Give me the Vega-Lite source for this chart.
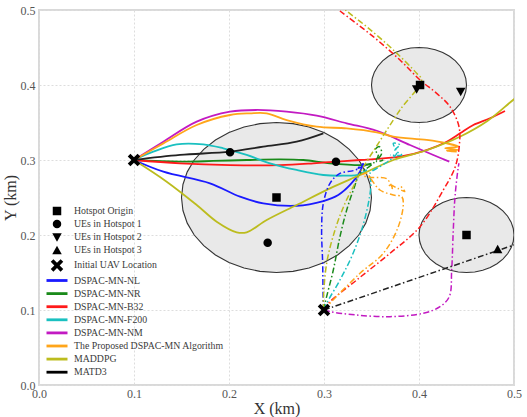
{
  "$schema": "https://vega.github.io/schema/vega-lite/v6.json",
  "width": 475,
  "height": 375,
  "autosize": {"type": "none"},
  "padding": {"left": 39, "top": 10, "right": 13, "bottom": 32},
  "background": "white",
  "datasets": {
    "ell": [
      {"e":"h1","k":0,"x":0.35,"y":0.25},{"e":"h1","k":10,"x":0.34848,"y":0.26736},{"e":"h1","k":20,"x":0.34397,"y":0.2842},{"e":"h1","k":30,"x":0.3366,"y":0.3},{"e":"h1","k":40,"x":0.3266,"y":0.31428},{"e":"h1","k":50,"x":0.31428,"y":0.3266},{"e":"h1","k":60,"x":0.3,"y":0.3366},{"e":"h1","k":70,"x":0.2842,"y":0.34397},{"e":"h1","k":80,"x":0.26736,"y":0.34848},{"e":"h1","k":90,"x":0.25,"y":0.35},{"e":"h1","k":100,"x":0.23264,"y":0.34848},{"e":"h1","k":110,"x":0.2158,"y":0.34397},{"e":"h1","k":120,"x":0.2,"y":0.3366},{"e":"h1","k":130,"x":0.18572,"y":0.3266},{"e":"h1","k":140,"x":0.1734,"y":0.31428},{"e":"h1","k":150,"x":0.1634,"y":0.3},{"e":"h1","k":160,"x":0.15603,"y":0.2842},{"e":"h1","k":170,"x":0.15152,"y":0.26736},{"e":"h1","k":180,"x":0.15,"y":0.25},{"e":"h1","k":190,"x":0.15152,"y":0.23264},{"e":"h1","k":200,"x":0.15603,"y":0.2158},{"e":"h1","k":210,"x":0.1634,"y":0.2},{"e":"h1","k":220,"x":0.1734,"y":0.18572},{"e":"h1","k":230,"x":0.18572,"y":0.1734},{"e":"h1","k":240,"x":0.2,"y":0.1634},{"e":"h1","k":250,"x":0.2158,"y":0.15603},{"e":"h1","k":260,"x":0.23264,"y":0.15152},{"e":"h1","k":270,"x":0.25,"y":0.15},{"e":"h1","k":280,"x":0.26736,"y":0.15152},{"e":"h1","k":290,"x":0.2842,"y":0.15603},{"e":"h1","k":300,"x":0.3,"y":0.1634},{"e":"h1","k":310,"x":0.31428,"y":0.1734},{"e":"h1","k":320,"x":0.3266,"y":0.18572},{"e":"h1","k":330,"x":0.3366,"y":0.2},{"e":"h1","k":340,"x":0.34397,"y":0.2158},{"e":"h1","k":350,"x":0.34848,"y":0.23264},{"e":"h1","k":360,"x":0.35,"y":0.25},
      {"e":"h2","k":0,"x":0.45,"y":0.4},{"e":"h2","k":10,"x":0.44924,"y":0.40868},{"e":"h2","k":20,"x":0.44698,"y":0.4171},{"e":"h2","k":30,"x":0.4433,"y":0.425},{"e":"h2","k":40,"x":0.4383,"y":0.43214},{"e":"h2","k":50,"x":0.43214,"y":0.4383},{"e":"h2","k":60,"x":0.425,"y":0.4433},{"e":"h2","k":70,"x":0.4171,"y":0.44698},{"e":"h2","k":80,"x":0.40868,"y":0.44924},{"e":"h2","k":90,"x":0.4,"y":0.45},{"e":"h2","k":100,"x":0.39132,"y":0.44924},{"e":"h2","k":110,"x":0.3829,"y":0.44698},{"e":"h2","k":120,"x":0.375,"y":0.4433},{"e":"h2","k":130,"x":0.36786,"y":0.4383},{"e":"h2","k":140,"x":0.3617,"y":0.43214},{"e":"h2","k":150,"x":0.3567,"y":0.425},{"e":"h2","k":160,"x":0.35302,"y":0.4171},{"e":"h2","k":170,"x":0.35076,"y":0.40868},{"e":"h2","k":180,"x":0.35,"y":0.4},{"e":"h2","k":190,"x":0.35076,"y":0.39132},{"e":"h2","k":200,"x":0.35302,"y":0.3829},{"e":"h2","k":210,"x":0.3567,"y":0.375},{"e":"h2","k":220,"x":0.3617,"y":0.36786},{"e":"h2","k":230,"x":0.36786,"y":0.3617},{"e":"h2","k":240,"x":0.375,"y":0.3567},{"e":"h2","k":250,"x":0.3829,"y":0.35302},{"e":"h2","k":260,"x":0.39132,"y":0.35076},{"e":"h2","k":270,"x":0.4,"y":0.35},{"e":"h2","k":280,"x":0.40868,"y":0.35076},{"e":"h2","k":290,"x":0.4171,"y":0.35302},{"e":"h2","k":300,"x":0.425,"y":0.3567},{"e":"h2","k":310,"x":0.43214,"y":0.3617},{"e":"h2","k":320,"x":0.4383,"y":0.36786},{"e":"h2","k":330,"x":0.4433,"y":0.375},{"e":"h2","k":340,"x":0.44698,"y":0.3829},{"e":"h2","k":350,"x":0.44924,"y":0.39132},{"e":"h2","k":360,"x":0.45,"y":0.4},
      {"e":"h3","k":0,"x":0.5,"y":0.2},{"e":"h3","k":10,"x":0.49924,"y":0.20868},{"e":"h3","k":20,"x":0.49698,"y":0.2171},{"e":"h3","k":30,"x":0.4933,"y":0.225},{"e":"h3","k":40,"x":0.4883,"y":0.23214},{"e":"h3","k":50,"x":0.48214,"y":0.2383},{"e":"h3","k":60,"x":0.475,"y":0.2433},{"e":"h3","k":70,"x":0.4671,"y":0.24698},{"e":"h3","k":80,"x":0.45868,"y":0.24924},{"e":"h3","k":90,"x":0.45,"y":0.25},{"e":"h3","k":100,"x":0.44132,"y":0.24924},{"e":"h3","k":110,"x":0.4329,"y":0.24698},{"e":"h3","k":120,"x":0.425,"y":0.2433},{"e":"h3","k":130,"x":0.41786,"y":0.2383},{"e":"h3","k":140,"x":0.4117,"y":0.23214},{"e":"h3","k":150,"x":0.4067,"y":0.225},{"e":"h3","k":160,"x":0.40302,"y":0.2171},{"e":"h3","k":170,"x":0.40076,"y":0.20868},{"e":"h3","k":180,"x":0.4,"y":0.2},{"e":"h3","k":190,"x":0.40076,"y":0.19132},{"e":"h3","k":200,"x":0.40302,"y":0.1829},{"e":"h3","k":210,"x":0.4067,"y":0.175},{"e":"h3","k":220,"x":0.4117,"y":0.16786},{"e":"h3","k":230,"x":0.41786,"y":0.1617},{"e":"h3","k":240,"x":0.425,"y":0.1567},{"e":"h3","k":250,"x":0.4329,"y":0.15302},{"e":"h3","k":260,"x":0.44132,"y":0.15076},{"e":"h3","k":270,"x":0.45,"y":0.15},{"e":"h3","k":280,"x":0.45868,"y":0.15076},{"e":"h3","k":290,"x":0.4671,"y":0.15302},{"e":"h3","k":300,"x":0.475,"y":0.1567},{"e":"h3","k":310,"x":0.48214,"y":0.1617},{"e":"h3","k":320,"x":0.4883,"y":0.16786},{"e":"h3","k":330,"x":0.4933,"y":0.175},{"e":"h3","k":340,"x":0.49698,"y":0.1829},{"e":"h3","k":350,"x":0.49924,"y":0.19132},{"e":"h3","k":360,"x":0.5,"y":0.2}
    ],
    "t1": [
      {"a":"DSPAC-MN-NL","k":0,"x":0.1,"y":0.3},{"a":"DSPAC-MN-NL","k":1,"x":0.1309,"y":0.2844},{"a":"DSPAC-MN-NL","k":2,"x":0.18,"y":0.2689},{"a":"DSPAC-MN-NL","k":3,"x":0.2116,"y":0.2511},{"a":"DSPAC-MN-NL","k":4,"x":0.2361,"y":0.2422},{"a":"DSPAC-MN-NL","k":5,"x":0.2712,"y":0.239},{"a":"DSPAC-MN-NL","k":6,"x":0.2993,"y":0.2453},{"a":"DSPAC-MN-NL","k":7,"x":0.315,"y":0.2533},{"a":"DSPAC-MN-NL","k":8,"x":0.3274,"y":0.2667},{"a":"DSPAC-MN-NL","k":9,"x":0.3379,"y":0.2844},{"a":"DSPAC-MN-NL","k":10,"x":0.3414,"y":0.2956},
      {"a":"DSPAC-MN-NR","k":0,"x":0.1,"y":0.3},{"a":"DSPAC-MN-NR","k":1,"x":0.1484,"y":0.2978},{"a":"DSPAC-MN-NR","k":2,"x":0.1835,"y":0.2987},{"a":"DSPAC-MN-NR","k":3,"x":0.2186,"y":0.3},{"a":"DSPAC-MN-NR","k":4,"x":0.2537,"y":0.3009},{"a":"DSPAC-MN-NR","k":5,"x":0.2782,"y":0.3},{"a":"DSPAC-MN-NR","k":6,"x":0.3063,"y":0.2956},{"a":"DSPAC-MN-NR","k":7,"x":0.3414,"y":0.2933},{"a":"DSPAC-MN-NR","k":8,"x":0.35,"y":0.295},
      {"a":"DSPAC-MN-B32","k":0,"x":0.1,"y":0.3},{"a":"DSPAC-MN-B32","k":1,"x":0.1484,"y":0.2956},{"a":"DSPAC-MN-B32","k":2,"x":0.2011,"y":0.2933},{"a":"DSPAC-MN-B32","k":3,"x":0.2537,"y":0.2933},{"a":"DSPAC-MN-B32","k":4,"x":0.2888,"y":0.2956},{"a":"DSPAC-MN-B32","k":5,"x":0.3133,"y":0.2978},{"a":"DSPAC-MN-B32","k":6,"x":0.3379,"y":0.3},{"a":"DSPAC-MN-B32","k":7,"x":0.38,"y":0.3044},{"a":"DSPAC-MN-B32","k":8,"x":0.408,"y":0.3133},{"a":"DSPAC-MN-B32","k":9,"x":0.4292,"y":0.3244},{"a":"DSPAC-MN-B32","k":10,"x":0.4432,"y":0.3356},{"a":"DSPAC-MN-B32","k":11,"x":0.4572,"y":0.3467},{"a":"DSPAC-MN-B32","k":12,"x":0.4747,"y":0.3556},{"a":"DSPAC-MN-B32","k":13,"x":0.4905,"y":0.3653},
      {"a":"DSPAC-MN-F200","k":0,"x":0.1,"y":0.3},{"a":"DSPAC-MN-F200","k":1,"x":0.1203,"y":0.3111},{"a":"DSPAC-MN-F200","k":2,"x":0.1449,"y":0.3209},{"a":"DSPAC-MN-F200","k":3,"x":0.1729,"y":0.3209},{"a":"DSPAC-MN-F200","k":4,"x":0.194,"y":0.3156},{"a":"DSPAC-MN-F200","k":5,"x":0.2186,"y":0.3067},{"a":"DSPAC-MN-F200","k":6,"x":0.2432,"y":0.2956},{"a":"DSPAC-MN-F200","k":7,"x":0.2712,"y":0.2867},{"a":"DSPAC-MN-F200","k":8,"x":0.2993,"y":0.28},{"a":"DSPAC-MN-F200","k":9,"x":0.3203,"y":0.2791},{"a":"DSPAC-MN-F200","k":10,"x":0.3379,"y":0.2809},{"a":"DSPAC-MN-F200","k":11,"x":0.345,"y":0.287},
      {"a":"DSPAC-MN-NM","k":0,"x":0.1,"y":0.3},{"a":"DSPAC-MN-NM","k":1,"x":0.1309,"y":0.3244},{"a":"DSPAC-MN-NM","k":2,"x":0.166,"y":0.3511},{"a":"DSPAC-MN-NM","k":3,"x":0.2011,"y":0.3644},{"a":"DSPAC-MN-NM","k":4,"x":0.2291,"y":0.3667},{"a":"DSPAC-MN-NM","k":5,"x":0.2607,"y":0.3644},{"a":"DSPAC-MN-NM","k":6,"x":0.2923,"y":0.3591},{"a":"DSPAC-MN-NM","k":7,"x":0.3239,"y":0.3489},{"a":"DSPAC-MN-NM","k":8,"x":0.3555,"y":0.339},{"a":"DSPAC-MN-NM","k":9,"x":0.3905,"y":0.32},{"a":"DSPAC-MN-NM","k":10,"x":0.4151,"y":0.3067},{"a":"DSPAC-MN-NM","k":11,"x":0.4319,"y":0.2978},
      {"a":"The Proposed DSPAC-MN Algorithm","k":0,"x":0.1,"y":0.3},{"a":"The Proposed DSPAC-MN Algorithm","k":1,"x":0.1309,"y":0.3222},{"a":"The Proposed DSPAC-MN Algorithm","k":2,"x":0.166,"y":0.3467},{"a":"The Proposed DSPAC-MN Algorithm","k":3,"x":0.2011,"y":0.36},{"a":"The Proposed DSPAC-MN Algorithm","k":4,"x":0.2221,"y":0.3622},{"a":"The Proposed DSPAC-MN Algorithm","k":5,"x":0.2397,"y":0.3622},{"a":"The Proposed DSPAC-MN Algorithm","k":6,"x":0.2607,"y":0.3533},{"a":"The Proposed DSPAC-MN Algorithm","k":7,"x":0.2923,"y":0.3444},{"a":"The Proposed DSPAC-MN Algorithm","k":8,"x":0.3239,"y":0.3422},{"a":"The Proposed DSPAC-MN Algorithm","k":9,"x":0.3555,"y":0.3369},{"a":"The Proposed DSPAC-MN Algorithm","k":10,"x":0.373,"y":0.3311},{"a":"The Proposed DSPAC-MN Algorithm","k":11,"x":0.4081,"y":0.3267},{"a":"The Proposed DSPAC-MN Algorithm","k":12,"x":0.4292,"y":0.3222},{"a":"The Proposed DSPAC-MN Algorithm","k":13,"x":0.4414,"y":0.3178},{"a":"The Proposed DSPAC-MN Algorithm","k":14,"x":0.4275,"y":0.3156},{"a":"The Proposed DSPAC-MN Algorithm","k":15,"x":0.4414,"y":0.3133},{"a":"The Proposed DSPAC-MN Algorithm","k":16,"x":0.4292,"y":0.3122},{"a":"The Proposed DSPAC-MN Algorithm","k":17,"x":0.4397,"y":0.3111},
      {"a":"MADDPG","k":0,"x":0.1,"y":0.3},{"a":"MADDPG","k":1,"x":0.1344,"y":0.2711},{"a":"MADDPG","k":2,"x":0.166,"y":0.24},{"a":"MADDPG","k":3,"x":0.187,"y":0.2178},{"a":"MADDPG","k":4,"x":0.2081,"y":0.2036},{"a":"MADDPG","k":5,"x":0.2186,"y":0.2036},{"a":"MADDPG","k":6,"x":0.2397,"y":0.22},{"a":"MADDPG","k":7,"x":0.2712,"y":0.24},{"a":"MADDPG","k":8,"x":0.3063,"y":0.2622},{"a":"MADDPG","k":9,"x":0.3379,"y":0.28},{"a":"MADDPG","k":10,"x":0.373,"y":0.3},{"a":"MADDPG","k":11,"x":0.408,"y":0.313},{"a":"MADDPG","k":12,"x":0.443,"y":0.331},{"a":"MADDPG","k":13,"x":0.472,"y":0.352},{"a":"MADDPG","k":14,"x":0.5,"y":0.381},{"a":"MADDPG","k":15,"x":0.51,"y":0.39},
      {"a":"MATD3","k":0,"x":0.1,"y":0.3},{"a":"MATD3","k":1,"x":0.1484,"y":0.3067},{"a":"MATD3","k":2,"x":0.2011,"y":0.3111},{"a":"MATD3","k":3,"x":0.2361,"y":0.3178},{"a":"MATD3","k":4,"x":0.2712,"y":0.3244},{"a":"MATD3","k":5,"x":0.2993,"y":0.3356}
    ],
    "t2": [
      {"a":"DSPAC-MN-NL","k":0,"x":0.3,"y":0.1},{"a":"DSPAC-MN-NL","k":1,"x":0.2993,"y":0.1089},{"a":"DSPAC-MN-NL","k":2,"x":0.2986,"y":0.1622},{"a":"DSPAC-MN-NL","k":3,"x":0.2975,"y":0.2067},{"a":"DSPAC-MN-NL","k":4,"x":0.2993,"y":0.2422},{"a":"DSPAC-MN-NL","k":5,"x":0.3063,"y":0.2689},{"a":"DSPAC-MN-NL","k":6,"x":0.3168,"y":0.2822},{"a":"DSPAC-MN-NL","k":7,"x":0.3309,"y":0.2858},{"a":"DSPAC-MN-NL","k":8,"x":0.3396,"y":0.2911},{"a":"DSPAC-MN-NL","k":9,"x":0.342,"y":0.296},{"a":"DSPAC-MN-NL","k":10,"x":0.336,"y":0.289},{"a":"DSPAC-MN-NL","k":11,"x":0.344,"y":0.293},
      {"a":"DSPAC-MN-NR","k":0,"x":0.3,"y":0.1},{"a":"DSPAC-MN-NR","k":1,"x":0.3011,"y":0.1089},{"a":"DSPAC-MN-NR","k":2,"x":0.3098,"y":0.1533},{"a":"DSPAC-MN-NR","k":3,"x":0.3168,"y":0.1978},{"a":"DSPAC-MN-NR","k":4,"x":0.3239,"y":0.2333},{"a":"DSPAC-MN-NR","k":5,"x":0.3309,"y":0.26},{"a":"DSPAC-MN-NR","k":6,"x":0.3379,"y":0.2822},{"a":"DSPAC-MN-NR","k":7,"x":0.345,"y":0.2889},{"a":"DSPAC-MN-NR","k":8,"x":0.3519,"y":0.2956},{"a":"DSPAC-MN-NR","k":9,"x":0.3572,"y":0.3067},{"a":"DSPAC-MN-NR","k":10,"x":0.3537,"y":0.3133},{"a":"DSPAC-MN-NR","k":11,"x":0.3582,"y":0.3178},{"a":"DSPAC-MN-NR","k":12,"x":0.3607,"y":0.3089},{"a":"DSPAC-MN-NR","k":13,"x":0.3554,"y":0.2978},{"a":"DSPAC-MN-NR","k":14,"x":0.3624,"y":0.3},
      {"a":"DSPAC-MN-B32","k":0,"x":0.3,"y":0.1},{"a":"DSPAC-MN-B32","k":1,"x":0.3046,"y":0.1089},{"a":"DSPAC-MN-B32","k":2,"x":0.3344,"y":0.14},{"a":"DSPAC-MN-B32","k":3,"x":0.3695,"y":0.1756},{"a":"DSPAC-MN-B32","k":4,"x":0.4011,"y":0.2111},{"a":"DSPAC-MN-B32","k":5,"x":0.4256,"y":0.26},{"a":"DSPAC-MN-B32","k":6,"x":0.4379,"y":0.29},{"a":"DSPAC-MN-B32","k":7,"x":0.4425,"y":0.32},{"a":"DSPAC-MN-B32","k":8,"x":0.442,"y":0.345},{"a":"DSPAC-MN-B32","k":9,"x":0.4326,"y":0.3711},{"a":"DSPAC-MN-B32","k":10,"x":0.4186,"y":0.3889},{"a":"DSPAC-MN-B32","k":11,"x":0.4011,"y":0.4067},{"a":"DSPAC-MN-B32","k":12,"x":0.38,"y":0.4333},{"a":"DSPAC-MN-B32","k":13,"x":0.3519,"y":0.4644},{"a":"DSPAC-MN-B32","k":14,"x":0.3168,"y":0.4987},{"a":"DSPAC-MN-B32","k":15,"x":0.305,"y":0.51},
      {"a":"DSPAC-MN-F200","k":0,"x":0.3,"y":0.1},{"a":"DSPAC-MN-F200","k":1,"x":0.3028,"y":0.1089},{"a":"DSPAC-MN-F200","k":2,"x":0.3168,"y":0.14},{"a":"DSPAC-MN-F200","k":3,"x":0.3291,"y":0.1711},{"a":"DSPAC-MN-F200","k":4,"x":0.3396,"y":0.2067},{"a":"DSPAC-MN-F200","k":5,"x":0.3467,"y":0.2422},{"a":"DSPAC-MN-F200","k":6,"x":0.3495,"y":0.2689},{"a":"DSPAC-MN-F200","k":7,"x":0.3484,"y":0.2822},{"a":"DSPAC-MN-F200","k":8,"x":0.3589,"y":0.2911},{"a":"DSPAC-MN-F200","k":9,"x":0.3695,"y":0.3},{"a":"DSPAC-MN-F200","k":10,"x":0.3765,"y":0.3089},{"a":"DSPAC-MN-F200","k":11,"x":0.373,"y":0.3222},{"a":"DSPAC-MN-F200","k":12,"x":0.38,"y":0.32},{"a":"DSPAC-MN-F200","k":13,"x":0.3747,"y":0.3133},{"a":"DSPAC-MN-F200","k":14,"x":0.3818,"y":0.3067},{"a":"DSPAC-MN-F200","k":15,"x":0.3695,"y":0.3067},
      {"a":"DSPAC-MN-NM","k":0,"x":0.3,"y":0.1},{"a":"DSPAC-MN-NM","k":1,"x":0.3063,"y":0.0978},{"a":"DSPAC-MN-NM","k":2,"x":0.3344,"y":0.0933},{"a":"DSPAC-MN-NM","k":3,"x":0.3695,"y":0.0911},{"a":"DSPAC-MN-NM","k":4,"x":0.4046,"y":0.0956},{"a":"DSPAC-MN-NM","k":5,"x":0.4221,"y":0.1044},{"a":"DSPAC-MN-NM","k":6,"x":0.4319,"y":0.1178},{"a":"DSPAC-MN-NM","k":7,"x":0.4344,"y":0.1533},{"a":"DSPAC-MN-NM","k":8,"x":0.4361,"y":0.2067},{"a":"DSPAC-MN-NM","k":9,"x":0.4379,"y":0.2511},{"a":"DSPAC-MN-NM","k":10,"x":0.4414,"y":0.2911},{"a":"DSPAC-MN-NM","k":11,"x":0.4421,"y":0.2956},
      {"a":"The Proposed DSPAC-MN Algorithm","k":0,"x":0.3,"y":0.1},{"a":"The Proposed DSPAC-MN Algorithm","k":1,"x":0.3046,"y":0.1067},{"a":"The Proposed DSPAC-MN Algorithm","k":2,"x":0.3379,"y":0.1489},{"a":"The Proposed DSPAC-MN Algorithm","k":3,"x":0.3625,"y":0.1756},{"a":"The Proposed DSPAC-MN Algorithm","k":4,"x":0.3782,"y":0.2111},{"a":"The Proposed DSPAC-MN Algorithm","k":5,"x":0.3835,"y":0.2422},{"a":"The Proposed DSPAC-MN Algorithm","k":6,"x":0.3818,"y":0.2511},{"a":"The Proposed DSPAC-MN Algorithm","k":7,"x":0.373,"y":0.2533},{"a":"The Proposed DSPAC-MN Algorithm","k":8,"x":0.3589,"y":0.26},{"a":"The Proposed DSPAC-MN Algorithm","k":9,"x":0.3502,"y":0.2733},{"a":"The Proposed DSPAC-MN Algorithm","k":10,"x":0.345,"y":0.2822},{"a":"The Proposed DSPAC-MN Algorithm","k":11,"x":0.34,"y":0.28},{"a":"The Proposed DSPAC-MN Algorithm","k":12,"x":0.347,"y":0.277},{"a":"The Proposed DSPAC-MN Algorithm","k":13,"x":0.366,"y":0.275},{"a":"The Proposed DSPAC-MN Algorithm","k":14,"x":0.372,"y":0.262},{"a":"The Proposed DSPAC-MN Algorithm","k":15,"x":0.368,"y":0.268},{"a":"The Proposed DSPAC-MN Algorithm","k":16,"x":0.378,"y":0.262},{"a":"The Proposed DSPAC-MN Algorithm","k":17,"x":0.385,"y":0.258},{"a":"The Proposed DSPAC-MN Algorithm","k":18,"x":0.38,"y":0.266},
      {"a":"MADDPG","k":0,"x":0.3,"y":0.1},{"a":"MADDPG","k":1,"x":0.2993,"y":0.1089},{"a":"MADDPG","k":2,"x":0.3028,"y":0.1622},{"a":"MADDPG","k":3,"x":0.3116,"y":0.2067},{"a":"MADDPG","k":4,"x":0.3221,"y":0.2422},{"a":"MADDPG","k":5,"x":0.3326,"y":0.2689},{"a":"MADDPG","k":6,"x":0.3396,"y":0.2867},{"a":"MADDPG","k":7,"x":0.3572,"y":0.3222},{"a":"MADDPG","k":8,"x":0.38,"y":0.3667},{"a":"MADDPG","k":9,"x":0.4028,"y":0.4067},{"a":"MADDPG","k":10,"x":0.3975,"y":0.4156},{"a":"MADDPG","k":11,"x":0.373,"y":0.4467},{"a":"MADDPG","k":12,"x":0.3449,"y":0.4778},{"a":"MADDPG","k":13,"x":0.3239,"y":0.4987},{"a":"MADDPG","k":14,"x":0.31,"y":0.515},
      {"a":"MATD3","k":0,"x":0.3,"y":0.1},{"a":"MATD3","k":1,"x":0.5,"y":0.1867},{"a":"MATD3","k":2,"x":0.52,"y":0.1953}
    ],
    "mk": [
      {"item":"Hotspot Origin","x":0.25,"y":0.25},{"item":"Hotspot Origin","x":0.4011,"y":0.4},{"item":"Hotspot Origin","x":0.45,"y":0.2},
      {"item":"UEs in Hotspot 1","x":0.2011,"y":0.3102},{"item":"UEs in Hotspot 1","x":0.3126,"y":0.2978},{"item":"UEs in Hotspot 1","x":0.2407,"y":0.1898},
      {"item":"UEs in Hotspot 2","x":0.3975,"y":0.3943},{"item":"UEs in Hotspot 2","x":0.4439,"y":0.3911},
      {"item":"UEs in Hotspot 3","x":0.4828,"y":0.1809},
      {"item":"Initial UAV Location","x":0.1,"y":0.3},{"item":"Initial UAV Location","x":0.3,"y":0.1}
    ]
  },
  "encoding": {
    "x": {"field": "x", "type": "quantitative", "scale": {"domain": [0, 0.5], "nice": false, "zero": false},
      "axis": {"title": "X (km)", "values": [0, 0.1, 0.2, 0.3, 0.4, 0.5], "format": ".1f", "labelPadding": 3, "titlePadding": 1}},
    "y": {"field": "y", "type": "quantitative", "scale": {"domain": [0, 0.5], "nice": false, "zero": false},
      "axis": {"title": "Y (km)", "values": [0, 0.1, 0.2, 0.3, 0.4, 0.5], "format": ".1f", "labelPadding": 4, "titlePadding": 2}}
  },
  "layer": [
    {
      "data": {"name": "ell"},
      "mark": {"type": "line", "fill": "#e9e9e9", "stroke": "#333333", "strokeWidth": 1.1, "clip": true},
      "encoding": {"detail": {"field": "e", "type": "nominal"}, "order": {"field": "k", "type": "quantitative"}}
    },
    {
      "data": {"name": "t1"},
      "mark": {"type": "line", "strokeWidth": 1.8, "clip": true, "interpolate": "catmull-rom"},
      "encoding": {
        "stroke": {"field": "a", "type": "nominal", "legend": null,
          "scale": {"domain": ["DSPAC-MN-NL","DSPAC-MN-NR","DSPAC-MN-B32","DSPAC-MN-F200","DSPAC-MN-NM","The Proposed DSPAC-MN Algorithm","MADDPG","MATD3"],
            "range": ["#1a1aff","#1a8a1a","#ff1a1a","#1ac0c0","#c21ac2","#ffa51a","#bcbc1e","#222222"]}},
        "order": {"field": "k", "type": "quantitative"}
      }
    },
    {
      "data": {"name": "t2"},
      "mark": {"type": "line", "strokeWidth": 1.5, "strokeDash": [6, 2.5, 1.5, 2.5], "clip": true, "interpolate": "catmull-rom"},
      "encoding": {
        "stroke": {"field": "a", "type": "nominal", "legend": null,
          "scale": {"domain": ["DSPAC-MN-NL","DSPAC-MN-NR","DSPAC-MN-B32","DSPAC-MN-F200","DSPAC-MN-NM","The Proposed DSPAC-MN Algorithm","MADDPG","MATD3"],
            "range": ["#1a1aff","#1a8a1a","#ff1a1a","#1ac0c0","#c21ac2","#ffa51a","#bcbc1e","#222222"]}},
        "order": {"field": "k", "type": "quantitative"}
      }
    },
    {
      "data": {"name": "mk"},
      "mark": {"type": "point", "filled": true, "size": 100, "opacity": 1, "strokeWidth": 0},
      "encoding": {
        "shape": {"field": "item", "type": "nominal",
          "scale": {"domain": ["Hotspot Origin","UEs in Hotspot 1","UEs in Hotspot 2","UEs in Hotspot 3","Initial UAV Location","DSPAC-MN-NL","DSPAC-MN-NR","DSPAC-MN-B32","DSPAC-MN-F200","DSPAC-MN-NM","The Proposed DSPAC-MN Algorithm","MADDPG","MATD3"],
            "range": [
              "M-0.85,-0.85L0.85,-0.85L0.85,0.85L-0.85,0.85Z",
              "M-0.85,0A0.85,0.85 0 1,0 0.85,0A0.85,0.85 0 1,0 -0.85,0Z",
              "M-0.95,-0.8L0.95,-0.8L0,0.9Z",
              "M-0.95,0.8L0.95,0.8L0,-0.9Z",
              "M-1.25,-0.72L-0.72,-1.25L0,-0.53L0.72,-1.25L1.25,-0.72L0.53,0L1.25,0.72L0.72,1.25L0,0.53L-0.72,1.25L-1.25,0.72L-0.53,0Z",
              "M-2.1,-0.28L2.1,-0.28L2.1,0.28L-2.1,0.28Z",
              "M-2.1,-0.28L2.1,-0.28L2.1,0.28L-2.1,0.28Z",
              "M-2.1,-0.28L2.1,-0.28L2.1,0.28L-2.1,0.28Z",
              "M-2.1,-0.28L2.1,-0.28L2.1,0.28L-2.1,0.28Z",
              "M-2.1,-0.28L2.1,-0.28L2.1,0.28L-2.1,0.28Z",
              "M-2.1,-0.28L2.1,-0.28L2.1,0.28L-2.1,0.28Z",
              "M-2.1,-0.28L2.1,-0.28L2.1,0.28L-2.1,0.28Z",
              "M-2.1,-0.28L2.1,-0.28L2.1,0.28L-2.1,0.28Z"
            ]},
          "legend": {"title": null, "orient": "none", "legendX": 13, "legendY": 196, "symbolSize": 100, "rowPadding": 3.1, "labelOffset": 12, "padding": 0, "labelFont": "Liberation Serif", "labelFontSize": 9.8, "labelColor": "#3a3a3a", "labelLimit": 400}
        },
        "color": {"field": "item", "type": "nominal",
          "scale": {"domain": ["Hotspot Origin","UEs in Hotspot 1","UEs in Hotspot 2","UEs in Hotspot 3","Initial UAV Location","DSPAC-MN-NL","DSPAC-MN-NR","DSPAC-MN-B32","DSPAC-MN-F200","DSPAC-MN-NM","The Proposed DSPAC-MN Algorithm","MADDPG","MATD3"],
            "range": ["#000000","#000000","#000000","#000000","#000000","#1a1aff","#1a8a1a","#ff1a1a","#1ac0c0","#c21ac2","#ffa51a","#bcbc1e","#000000"]},
          "legend": {"title": null, "orient": "none", "legendX": 13, "legendY": 196, "symbolSize": 100, "rowPadding": 3.1, "labelOffset": 12, "padding": 0, "labelFont": "Liberation Serif", "labelFontSize": 9.8, "labelColor": "#3a3a3a", "labelLimit": 400}
        }
      }
    }
  ],
  "config": {
    "font": "Liberation Serif",
    "view": {"stroke": "#d9d9d9", "strokeWidth": 2},
    "axis": {"labelFont": "Liberation Serif", "labelFontSize": 12, "labelColor": "#555555", "titleFont": "Liberation Serif", "titleFontSize": 16, "titleFontWeight": "normal", "titleColor": "#333333", "gridColor": "#dddddd", "gridDash": [2, 2], "gridWidth": 1, "domain": false, "ticks": false, "labelFlush": false, "labelOverlap": false},
    "legend": {"symbolStrokeWidth": 0, "symbolOpacity": 1}
  }
}
